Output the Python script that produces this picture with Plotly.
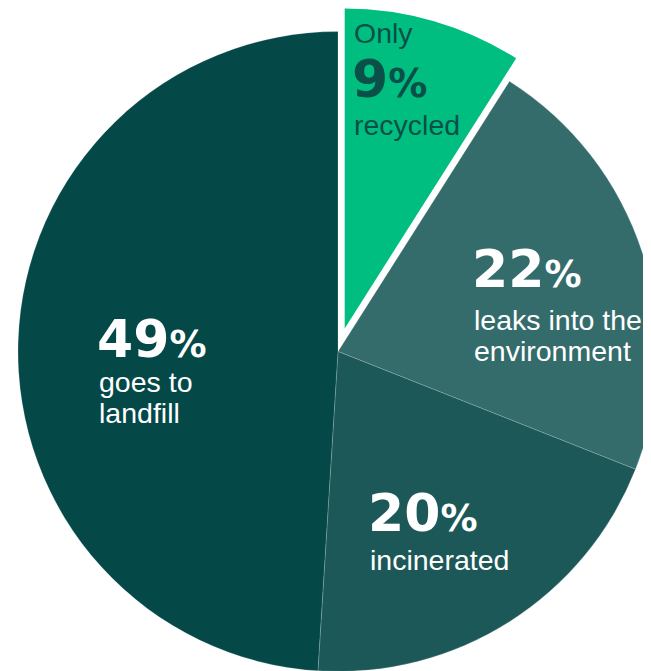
import math
import plotly.graph_objects as go

# ---- data ----
categories = ["recycled", "leaks into the environment", "incinerated", "goes to landfill"]
shares = [9, 22, 20, 49]
prefix_lines = [["Only"], [], [], []]
caption_lines = [["recycled"], ["leaks into the", "environment"], ["incinerated"], ["goes to", "landfill"]]
slice_colors = ["#00BE80", "#346C6C", "#1C5858", "#044848"]
label_colors = ["#0B4F49", "#FFFFFF", "#FFFFFF", "#FFFFFF"]
pulled_slice = 0  # index of the slice pulled out

# ---- geometry / style (page pixels; the page body adds an 8px margin) ----
PAGE_OFFSET = 8
W, H = 660, 671
R = 320
CX, CY = 338, 351.5        # pie centre in page pixels
PULL_PX = 24
BODY_FONT = "Liberation Sans, Arial, sans-serif"
NUM_FONT = "DejaVu Sans, sans-serif"
BODY_SIZE = 28.5
NUM_SIZE = [52, 52, 52, 52]
PCT_SIZE = [39, 37, 37, 37]

# label placement in page pixels: left x, baselines for each line (prefix, number, captions)
label_left = [354, 474, 370, 99]
label_baselines = [[42.5, 96.5, 134.5], [287, 330, 361], [531, 570], [357, 392, 423]]


def px_x(p):
    return (p - PAGE_OFFSET) / W


def px_y(p):
    return 1 - (p - PAGE_OFFSET) / H


def domain_for(cx, cy, r):
    return dict(x=[px_x(cx - r), px_x(cx + r)], y=[px_y(cy + r), px_y(cy - r)])


total = sum(shares)
start = sum(shares[:pulled_slice])
mid = (start + shares[pulled_slice] / 2) / total * 2 * math.pi
gx = CX + PULL_PX * math.sin(mid)
gy = CY - PULL_PX * math.cos(mid)

main_colors = [("rgba(0,0,0,0)" if i == pulled_slice else c) for i, c in enumerate(slice_colors)]
pull_colors = [(c if i == pulled_slice else "rgba(0,0,0,0)") for i, c in enumerate(slice_colors)]

fig = go.Figure()
fig.add_trace(go.Pie(
    labels=categories, values=shares, sort=False, direction="clockwise", rotation=0,
    marker=dict(colors=main_colors, line=dict(color="rgba(255,255,255,0.18)", width=1)),
    textinfo="none", hoverinfo="skip", showlegend=False,
    domain=domain_for(CX, CY, R),
))
fig.add_trace(go.Pie(
    labels=categories, values=shares, sort=False, direction="clockwise", rotation=0,
    marker=dict(colors=pull_colors, line=dict(width=0)),
    textinfo="none", hoverinfo="skip", showlegend=False,
    domain=domain_for(gx, gy, R),
))


def add_line(text, x_px, baseline_px, size, family, color, descent):
    y_bottom = baseline_px + descent * size
    fig.add_annotation(
        x=px_x(x_px), y=px_y(y_bottom), xref="paper", yref="paper",
        xanchor="left", yanchor="bottom", align="left", showarrow=False,
        text=text, borderpad=0, borderwidth=0,
        font=dict(family=family, size=size, color=color),
    )


for i, v in enumerate(shares):
    bl = label_baselines[i]
    k = 0
    for t in prefix_lines[i]:
        add_line(t, label_left[i], bl[k], BODY_SIZE, BODY_FONT, label_colors[i], 0.212)
        k += 1
    num = f"<b>{v}<span style='font-size:{PCT_SIZE[i]}px'>%</span></b>"
    add_line(num, label_left[i] - 2, bl[k], NUM_SIZE[i], NUM_FONT, label_colors[i], 0.236)
    k += 1
    for t in caption_lines[i]:
        add_line(t, label_left[i], bl[k], BODY_SIZE, BODY_FONT, label_colors[i], 0.212)
        k += 1

fig.update_layout(
    width=W, height=H, margin=dict(l=0, r=0, t=0, b=0),
    paper_bgcolor="white", plot_bgcolor="white", showlegend=False,
)
fig.write_html("out.html", config={"displayModeBar": False})
